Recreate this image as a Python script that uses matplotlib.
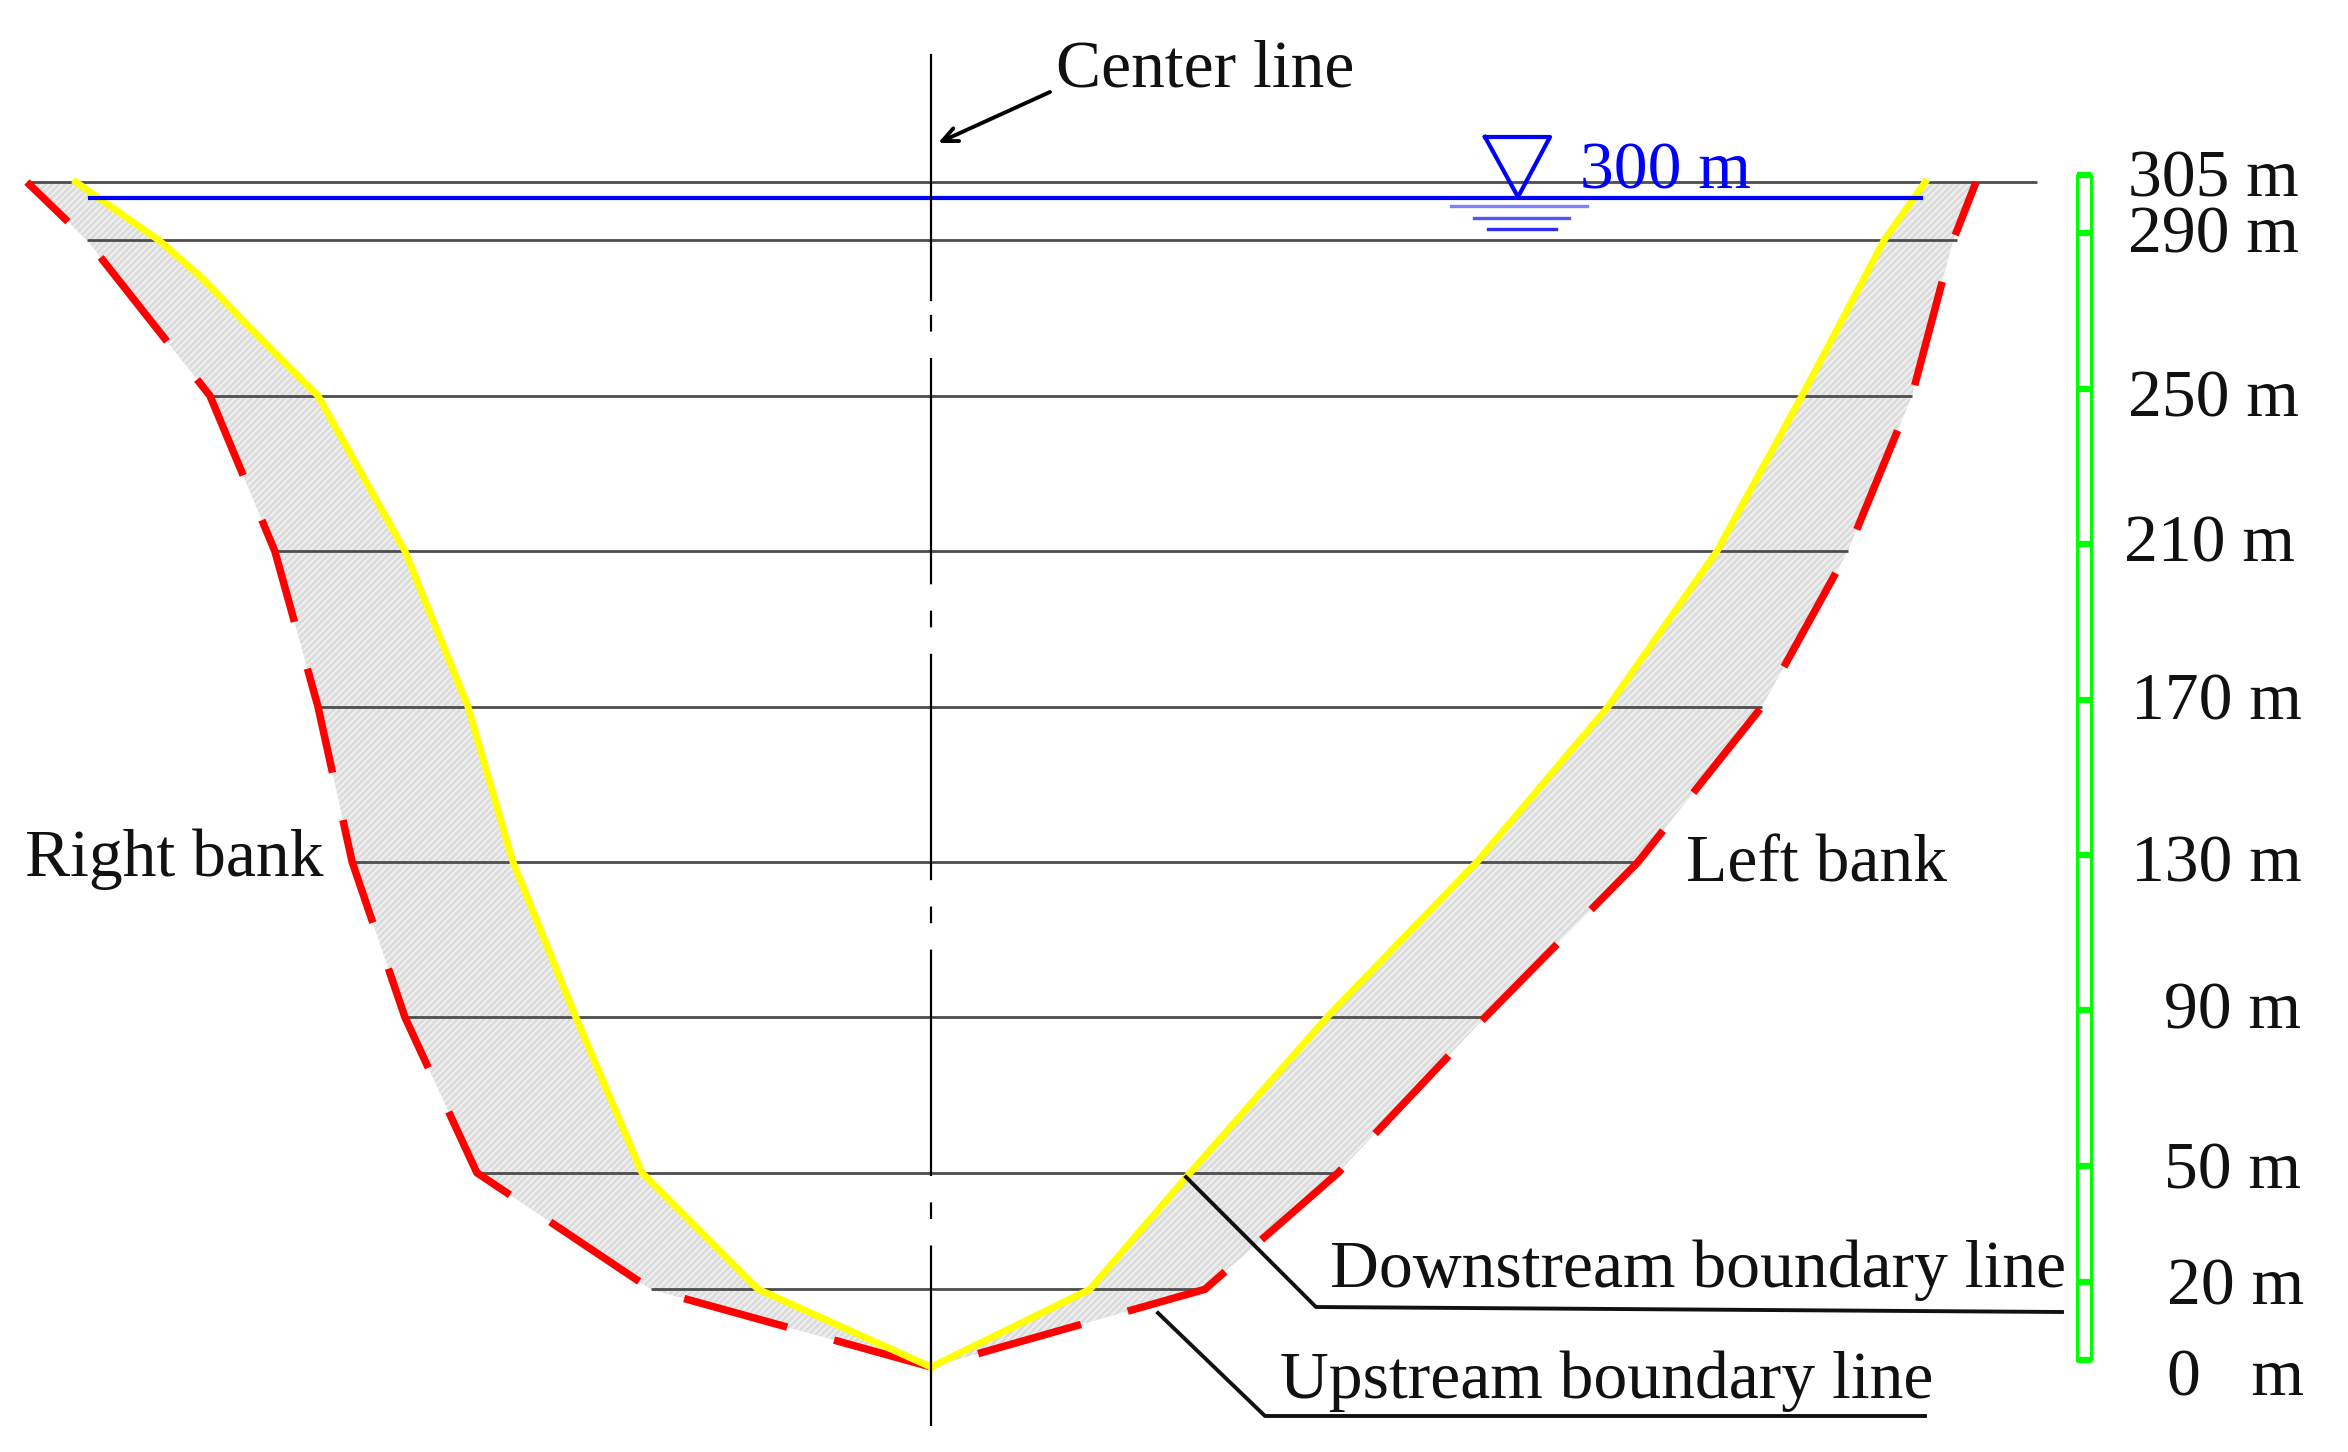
import matplotlib
matplotlib.use("Agg")
import matplotlib.pyplot as plt
from matplotlib.patches import Polygon

plt.rcParams['font.family'] = ['Liberation Serif', 'DejaVu Serif']
plt.rcParams['lines.scale_dashes'] = False
plt.rcParams['hatch.linewidth'] = 1.2

# section levels, m
levels = [305, 290, 250, 210, 170, 130, 90, 50, 20, 0]

# offsets from the center line, m (negative = right bank side of the drawing)
up_left = [-232.7, -217.2, -185.6, -168.9, -157.8, -149.0, -135.4, -116.9, -72.1, 0]
up_right = [269.0, 263.1, 252.5, 236.0, 213.9, 182.0, 142.6, 104.8, 70.5, 0]

down_left_z = [305, 290, 281, 261, 250, 210, 170, 130, 90, 50, 20, 0]
down_left = [-220.1, -198.7, -188.4, -168.9, -157.8, -135.4, -119.2, -107.6, -91.4, -74.4, -44.5, 0]
down_right = [255.9, 245.3, 224.2, 202.3, 174.3, 140.5, 101.9, 66.7, 40.9, 0]

line_left = [-232.7, -217.2, -185.6, -168.9, -157.8, -149.0, -135.4, -116.1, -72.1]
line_right = [284.7, 264.1, 252.5, 236.0, 213.9, 182.0, 142.6, 104.8, 70.5]

water_level = 300.9
water_left, water_right = -216.5, 254.9

scale_labels = ['305 m', '290 m', '250 m', '210 m', '170 m', '130 m', '90 m', '50 m', '20 m', '0   m']
scale_label_x = [2128, 2128, 2128, 2124, 2131, 2131, 2164, 2164, 2167, 2167]
scale_label_y = [180, 236, 400, 545, 703, 865, 1012, 1172, 1288, 1379]

PX_PER_M = 3.885
X0, Y0 = 931, 1367
W, H = 2348, 1452
DPI = 100
FS = 48.7


def pt(x, y):
    # image pixel to data position, for notes and leaders
    return (x - X0) / PX_PER_M, (Y0 - y) / PX_PER_M


fig = plt.figure(figsize=(W / DPI, H / DPI), dpi=DPI)
ax = fig.add_axes([0, 0, 1, 1])
ax.set_xlim(pt(0, 0)[0], pt(W, 0)[0])
ax.set_ylim(pt(0, H)[1], pt(0, 0)[1])
ax.axis('off')

# grey band on both banks
for up, down, down_z in [(up_left, down_left, down_left_z), (up_right, down_right, levels)]:
    verts = list(zip(up, levels)) + list(zip(down, down_z))[::-1]
    ax.add_patch(Polygon(verts, closed=True, facecolor='#dcdcdc', edgecolor='#f2f2f2',
                         hatch='/////', linewidth=0, zorder=1))

# level lines
for z, a, b in zip(levels[:-1], line_left, line_right):
    ax.plot([a, b], [z, z], color='#4d4d4d', lw=2.0, zorder=2, solid_capstyle='butt')

# boundary lines
ax.plot(down_left, down_left_z, color='#ffff00', lw=5, zorder=3, solid_joinstyle='round')
ax.plot(down_right, levels, color='#ffff00', lw=5, zorder=3, solid_joinstyle='round')
red_dash = (36, (77, 35))
ax.plot(up_left, levels, color='#ff0000', lw=5.4, ls=red_dash, zorder=2.5, dash_capstyle='butt')
ax.plot(up_right, levels, color='#ff0000', lw=5.4, ls=red_dash, zorder=2.5, dash_capstyle='butt')

# center line, drawn from the bottom up so the dashes fall in place
x_c, y_b = pt(931, 1426)
x_c, y_s = pt(931, 300)
x_c, y_t = pt(931, 55)
ax.plot([x_c, x_c], [y_b, y_s], color='black', lw=1.6, zorder=5,
        ls=(33, (163, 19, 12, 19)), dash_capstyle='butt')
ax.plot([x_c, x_c], [y_s, y_t], color='black', lw=1.6, zorder=5)
ax.annotate('', xy=pt(938, 143), xytext=pt(1050, 92),
            arrowprops=dict(arrowstyle='->,head_length=1.1,head_width=0.5', color='black', lw=2.8,
                            shrinkA=0, shrinkB=0))
ax.text(*pt(1056, 70), 'Center line', fontsize=FS, va='center', ha='left', color='#111111')

# water level
ax.plot([water_left, water_right], [water_level, water_level], color='#0000ff', lw=3, zorder=3)
ax.plot(*zip(pt(1485, 137), pt(1550, 137), pt(1518, 197), pt(1485, 137)), color='#0000ff', lw=3)
for x1, x2, y, col in [(1451, 1587, 206, '#8080ff'), (1474, 1569, 218, '#5555ff'), (1488, 1556, 229, '#2a2aff')]:
    ax.plot(*zip(pt(x1, y), pt(x2, y)), color=col, lw=2.4)
ax.text(*pt(1580, 172), '300 m', fontsize=FS, va='center', ha='left', color='#0000ff')

# bank notes and leaders
ax.text(*pt(25, 859), 'Right bank', fontsize=FS, va='center', ha='left', color='#111111')
ax.text(*pt(1686, 865), 'Left bank', fontsize=FS, va='center', ha='left', color='#111111')
ax.text(*pt(1330, 1270), 'Downstream boundary line', fontsize=FS, va='center', ha='left', color='#111111')
ax.text(*pt(1280, 1381), 'Upstream boundary line', fontsize=FS, va='center', ha='left', color='#111111')
ax.plot(*zip(pt(1186, 1177), pt(1316, 1307), pt(2062, 1312)), color='#111111', lw=2.8, zorder=5)
ax.plot(*zip(pt(1158, 1313), pt(1265, 1416), pt(1925, 1416)), color='#111111', lw=2.8, zorder=5)

# scale bar, drawn 7 px above the section's own levels
shift = 7 / PX_PER_M
bx1, bx2 = pt(2077, 0)[0], pt(2091, 0)[0]
ax.plot([bx1, bx1, bx2, bx2, bx1], [0 + shift, 305 + shift, 305 + shift, 0 + shift, 0 + shift],
        color='#00ff00', lw=2.2)
for z in levels:
    ax.plot([bx1, bx2], [z + shift, z + shift], color='#00ff00', lw=4.5, solid_capstyle='butt')
for label, lx, ly in zip(scale_labels, scale_label_x, scale_label_y):
    ax.text(*pt(lx, ly), label, fontsize=FS, va='center', ha='left', color='#111111')

fig.savefig('out.png', dpi=DPI, facecolor='white')
